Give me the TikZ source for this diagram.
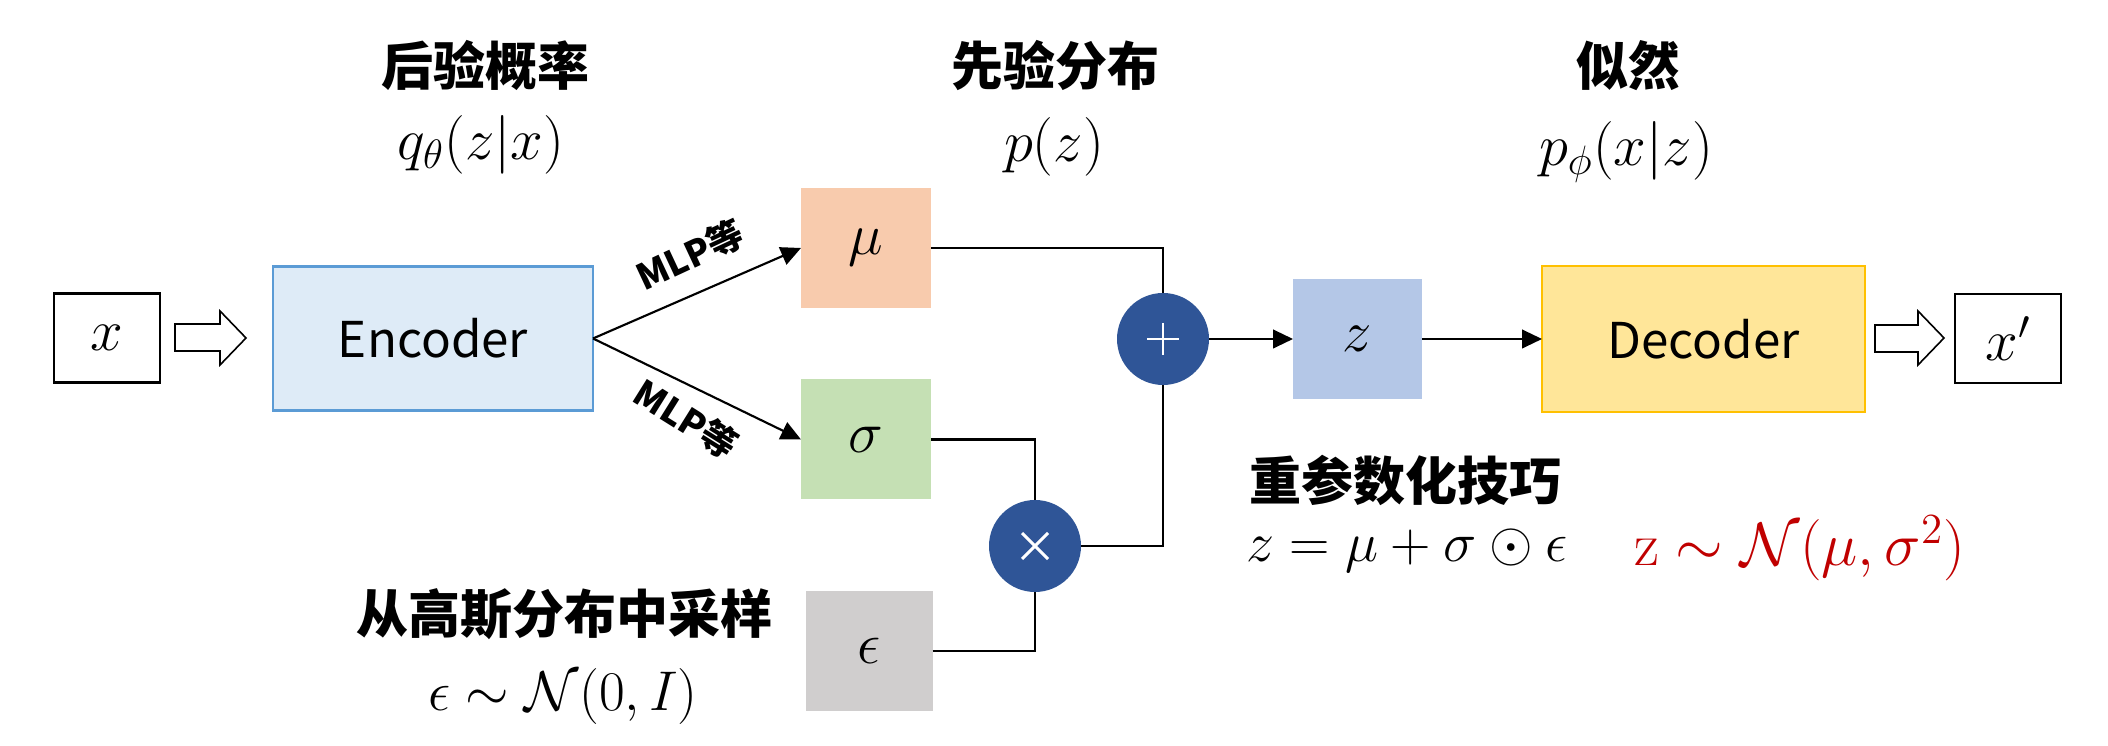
\RequirePackage{fix-cm}
\documentclass[tikz,border=0pt]{standalone}
\usepackage{amsmath,amssymb}
\usepackage[no-math]{fontspec}
\setmainfont{Noto Sans CJK SC}
\usetikzlibrary{arrows.meta,calc}
\newlength\pu \setlength\pu{0.375pt}
\definecolor{encfill}{HTML}{DEEBF7}
\definecolor{encline}{HTML}{5B9BD5}
\definecolor{decfill}{HTML}{FFE699}
\definecolor{decline}{HTML}{FFC000}
\definecolor{mufill}{HTML}{F8CBAD}
\definecolor{sigfill}{HTML}{C5E0B4}
\definecolor{epsfill}{HTML}{D0CECE}
\definecolor{zfill}{HTML}{B4C7E7}
\definecolor{opfill}{HTML}{2F5597}
\definecolor{redtxt}{HTML}{C00000}
\newcommand\mathsz{\fontsize{22pt}{26pt}\selectfont}
\newcommand\mathsmall{\fontsize{21pt}{25pt}\selectfont}
\newcommand\titlesz{\fontsize{19.5pt}{23pt}\selectfont\bfseries}
\begin{document}
\begin{tikzpicture}[x=0.375pt,y=-0.375pt,
  every node/.style={inner sep=0pt, outer sep=0pt},
  iobox/.style={draw=black, line width=0.8pt, minimum width=106\pu, minimum height=89\pu, font=\mathsz},
  colbox/.style={minimum width=130\pu, minimum height=120\pu, font=\mathsz},
  netbox/.style={line width=1.1pt, minimum width=320\pu, minimum height=144\pu, font=\fontsize{18.5pt}{22pt}\selectfont},
  opnode/.style={circle, fill=opfill, minimum size=92\pu},
  opsign/.style={draw=white, line width=1.1pt},
  conn/.style={line width=0.8pt, draw=black},
  arr/.style={conn, -{Triangle[length=7.5pt,width=7pt]}},
  title/.style={font=\titlesz},
  mathlbl/.style={font=\mathsz},
  mlp/.style={font=\fontsize{13.5pt}{16pt}\selectfont\bfseries},
  hollow/.style={draw=black, line width=0.6pt, fill=white}]
\path[fill=white, use as bounding box] (0,0) rectangle (2108,746);

% boxes
\node[iobox] (xin) at (107,338) {$x$};
\node[netbox, draw=encline, fill=encfill] (enc) at (433,338.5) {Encoder};
\node[colbox, fill=mufill] (mu) at (866,248) {$\mu$};
\node[colbox, fill=sigfill] (sigma) at (866,439.5) {$\sigma$};
\node[colbox, fill=epsfill, minimum width=127\pu] (eps) at (869,651) {$\epsilon$};
\node[opnode] (plus) at (1163,339) {};
\node[opnode] (times) at (1035,546) {};
\node[colbox, fill=zfill, minimum width=129\pu] (z) at (1357.5,339) {$z$};
\node[netbox, draw=decline, fill=decfill, minimum width=323\pu, minimum height=146\pu] (dec) at (1703.5,339) {Decoder};
\node[iobox] (xout) at (2008,338.5) {$x'$};

% operator signs
\draw[opsign] ($(plus.center)+(-16,0)$) -- ($(plus.center)+(16,0)$);
\draw[opsign] ($(plus.center)+(0,-16)$) -- ($(plus.center)+(0,16)$);
\draw[opsign] ($(times.center)+(-13,-13)$) -- ($(times.center)+(13,13)$);
\draw[opsign] ($(times.center)+(-13,13)$) -- ($(times.center)+(13,-13)$);

% hollow arrows
\draw[hollow] (175,324) -- (220,324) -- (220,311) -- (246,338) -- (220,365) -- (220,351) -- (175,351) -- cycle;
\draw[hollow] (1875,325) -- (1918,325) -- (1918,311) -- (1944,338) -- (1918,365) -- (1918,352) -- (1875,352) -- cycle;

% connectors
\draw[arr] (enc.east) -- (mu.west);
\draw[arr] (enc.east) -- (sigma.west);
\draw[conn] (mu.east) -| (plus.north);
\draw[conn] (sigma.east) -| (times.north);
\draw[conn] (eps.east) -| (times.south);
\draw[conn] (times.east) -| (plus.south);
\draw[arr] (plus.east) -- (z.west);
\draw[arr] (z.east) -- (dec.west);

% MLP labels
\node[mlp, rotate=25] (mlp1) at (690,255) {MLP等};
\node[mlp, rotate=-32] (mlp2) at (686,419) {MLP等};

% titles
\node[title] (t1) at (485,65) {后验概率};
\node[mathlbl] (f1) at (481,145) {$q_\theta(z|x)$};
\node[title] (t2) at (1055,66) {先验分布};
\node[mathlbl] (f2) at (1054,147) {$p(z)$};
\node[title] (t3) at (1628,66) {似然};
\node[mathlbl] (f3) at (1626,152) {$p_\phi(x|z)$};
\node[title] (t4) at (564,614) {从高斯分布中采样};
\node[font=\mathsmall] (f4) at (563,697) {$\epsilon\sim\mathcal{N}(0,I)$};
\node[title, anchor=west] (t5) at (1249,480) {重参数化技巧};
\node[font=\mathsmall, anchor=west] (f5) at (1246,551) {$z=\mu+\sigma\odot\epsilon$};
\node[anchor=west, text=redtxt, font=\fontsize{23pt}{27pt}\selectfont] (f6) at (1634,548) {$\mathrm{z}\sim\mathcal{N}(\mu,\sigma^{2})$};
\end{tikzpicture}
\end{document}
